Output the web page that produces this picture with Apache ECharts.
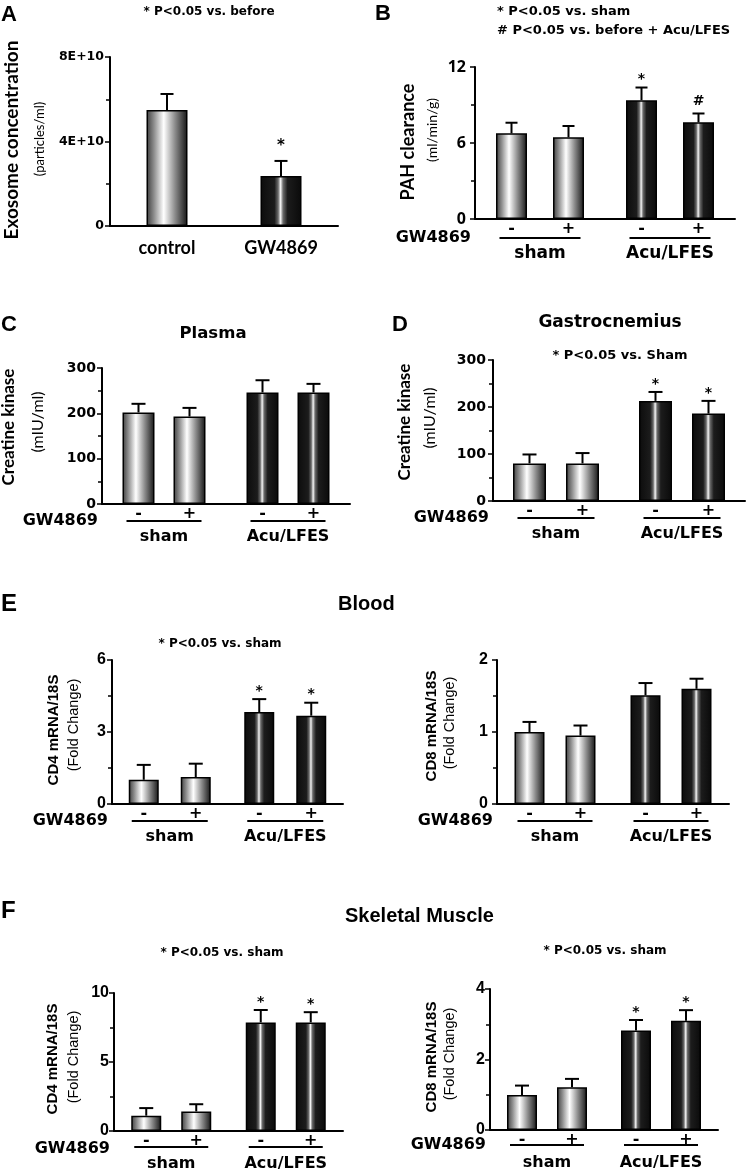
<!DOCTYPE html>
<html><head><meta charset="utf-8">
<script src="https://cdn.jsdelivr.net/npm/echarts@6/dist/echarts.min.js"></script>
<style>html,body{margin:0;padding:0;background:#fff}#c{width:750px;height:1173px}</style>
</head><body><div id="c"></div>
<script>
// ================= DATA =================
const groups = ['sham', 'Acu/LFES'];
const gwSigns = ['-', '+'];

// A: exosome concentration
const exoCategories = ['control', 'GW4869'];
const exoMean = [5.49e10, 2.37e10];
const exoSE = [0.76e10, 0.71e10];
const exoSig = ['', '*'];
const exoTickValues = [0, 4e10, 8e10];
const exoTickLabels = ['0', '4E+10', '8E+10'];

// B: PAH clearance (ml/min/g)
const pahMinus = [6.76, 9.38];
const pahPlus = [6.45, 7.63];
const pahMinusSE = [0.84, 1.00];
const pahPlusSE = [0.89, 0.70];
const pahMinusSig = ['', '*'];
const pahPlusSig = ['', '#'];

// C: creatine kinase, plasma (mIU/ml)
const ckPlasmaMinus = [202, 246];
const ckPlasmaPlus = [193, 246];
const ckPlasmaMinusSE = [19, 27];
const ckPlasmaPlusSE = [19, 19];

// D: creatine kinase, gastrocnemius (mIU/ml)
const ckGastroMinus = [80, 213];
const ckGastroPlus = [80, 186];
const ckGastroMinusSE = [19, 19];
const ckGastroPlusSE = [22, 27];
const ckGastroMinusSig = ['', '*'];
const ckGastroPlusSig = ['', '*'];

// E: blood CD4 / CD8 mRNA/18S (fold change)
const cd4BloodMinus = [1.01, 3.83];
const cd4BloodPlus = [1.12, 3.68];
const cd4BloodMinusSE = [0.62, 0.54];
const cd4BloodPlusSE = [0.56, 0.54];
const cd4BloodMinusSig = ['', '*'];
const cd4BloodPlusSig = ['', '*'];
const cd8BloodMinus = [1.00, 1.51];
const cd8BloodPlus = [0.95, 1.60];
const cd8BloodMinusSE = [0.14, 0.17];
const cd8BloodPlusSE = [0.14, 0.14];

// F: skeletal muscle CD4 / CD8 mRNA/18S (fold change)
const cd4MuscleMinus = [1.11, 7.87];
const cd4MusclePlus = [1.42, 7.87];
const cd4MuscleMinusSE = [0.55, 0.90];
const cd4MusclePlusSE = [0.52, 0.74];
const cd4MuscleMinusSig = ['', '*'];
const cd4MusclePlusSig = ['', '*'];
const cd8MuscleMinus = [0.99, 2.82];
const cd8MusclePlus = [1.21, 3.10];
const cd8MuscleMinusSE = [0.27, 0.30];
const cd8MusclePlusSE = [0.24, 0.30];
const cd8MuscleMinusSig = ['', '*'];
const cd8MusclePlusSig = ['', '*'];

// ================= STYLE =================
const LIGHT = {type:'linear', x:0, y:0, x2:1, y2:0, colorStops:[
  {offset:0, color:'#3c3c3c'}, {offset:0.18, color:'#8c8c8c'}, {offset:0.42, color:'#ffffff'},
  {offset:0.7, color:'#8a8a8a'}, {offset:1, color:'#141414'}]};
const DARK = {type:'linear', x:0, y:0, x2:1, y2:0, colorStops:[
  {offset:0, color:'#0c0c0c'}, {offset:0.34, color:'#1c1c1c'}, {offset:0.43, color:'#6a6a6a'},
  {offset:0.49, color:'#f6f6f6'}, {offset:0.55, color:'#6a6a6a'}, {offset:0.66, color:'#1c1c1c'},
  {offset:1, color:'#0a0a0a'}]};

const option = {animation:false, backgroundColor:'#fff', grid:[], xAxis:[], yAxis:[], series:[], graphic:[]};

function addPanel(L, D) {
  const gi = option.grid.length;
  const nS = D.series.length;
  option.grid.push({left:L.left, top:L.top, width:L.width, height:L.height});
  option.xAxis.push({gridIndex:gi, type:'category', data:D.cats,
    axisLine:{show:true, lineStyle:{color:'#000', width:2}}, axisTick:{show:false},
    axisLabel:{color:'#000', fontFamily:L.catFont, fontWeight:'bold', fontSize:L.catSize,
      lineHeight:L.catSize + 2, margin:L.catMargin, interval:0}});
  option.yAxis.push({gridIndex:gi, type:'value', min:0, max:D.yMax, interval:D.yInterval,
    axisLine:{show:true, lineStyle:{color:'#000', width:2}},
    axisTick:{show:true, length:5, lineStyle:{color:'#000', width:1.5}},
    minorTick:{show:true, splitNumber:2, length:4, lineStyle:{color:'#000', width:1.5}},
    splitLine:{show:false},
    axisLabel:{color:'#000', fontFamily:L.tickFont, fontWeight:'bold', fontSize:L.tickSize,
      margin:L.tickMargin, formatter:D.tickFmt}});
  const gap = nS > 1 ? ((L.pair - L.barWidth) / L.barWidth * 100) + '%' : '30%';
  D.series.forEach((s) => {
    option.series.push({type:'bar', xAxisIndex:gi, yAxisIndex:gi, barWidth:L.barWidth, barGap:gap,
      silent:true,
      data:s.values.map((v, ci) => ({value:v, itemStyle:{color:D.shade[ci] === 'dark' ? DARK : LIGHT,
        borderColor:'#000', borderWidth:1.5}}))});
  });
  const errData = [];
  D.series.forEach((s, si) => s.values.forEach((v, ci) => errData.push([ci, v, s.se[ci], si])));
  option.series.push({type:'custom', xAxisIndex:gi, yAxisIndex:gi, clip:false, z:5, silent:true,
    data:errData,
    renderItem:(params, api) => {
      const ci = api.value(0), v = api.value(1), se = api.value(2), si = api.value(3);
      const s = D.series[si];
      const off = nS > 1 ? (si === 0 ? -1 : 1) * L.pair / 2 : 0;
      const pTop = api.coord([ci, v]);
      const pErr = api.coord([ci, v + se]);
      const p0 = api.coord([ci, 0]);
      const x = pTop[0] + off;
      const ch = [
        {type:'line', shape:{x1:x, y1:pTop[1], x2:x, y2:pErr[1]}, style:{stroke:'#000', lineWidth:2}},
        {type:'line', shape:{x1:x - L.cap / 2, y1:pErr[1], x2:x + L.cap / 2, y2:pErr[1]}, style:{stroke:'#000', lineWidth:2}}
      ];
      const sig = s.sig ? s.sig[ci] : '';
      if (sig) {
        ch.push({type:'text', x:x, y:pErr[1] - (sig === '#' ? L.starGap + 4 : L.starGap),
          style:{text:sig, fill:'#000', font:L.starFont, align:'center', verticalAlign:'middle',
            textAlign:'center', textVerticalAlign:'middle'}});
      }
      if (s.sign) {
        ch.push({type:'text', x:x, y:p0[1] + L.signDy,
          style:{text:s.sign, fill:'#000', font:'bold 16px "DejaVu Sans"', align:'center', verticalAlign:'middle',
            textAlign:'center', textVerticalAlign:'middle'}});
      }
      if (nS > 1 && si === 0) {
        ch.push({type:'line', shape:{x1:p0[0] - L.pair / 2 - 12, y1:p0[1] + L.lineDy,
          x2:p0[0] + L.pair / 2 + 12, y2:p0[1] + L.lineDy}, style:{stroke:'#000', lineWidth:2}});
      }
      return {type:'group', children:ch};
    }});
  if (nS > 1) {
    option.graphic.push({type:'text', x:L.left - L.gwInset, y:L.top + L.height + L.lineDy,
      style:{text:'GW4869', fill:'#000', font:'bold 16px "DejaVu Sans"', align:'right', verticalAlign:'middle',
        textAlign:'right', textVerticalAlign:'middle'}});
  }
  D.ytitle.forEach(t => {
    option.graphic.push({type:'text', x:t.x, y:t.y, rotation:Math.PI / 2,
      style:{text:t.text, fill:'#000', font:t.font, align:'center', verticalAlign:'middle',
        textAlign:'center', textVerticalAlign:'middle'}});
  });
}

function two(minus, plus, minusSE, plusSE, minusSig, plusSig) {
  return [
    {values:minus, se:minusSE, sig:minusSig, sign:gwSigns[0]},
    {values:plus, se:plusSE, sig:plusSig, sign:gwSigns[1]}
  ];
}
const SH = ['light', 'dark'];
const base2 = {signDy:10, lineDy:17, gwInset:4, catFont:'DejaVu Sans', catSize:16, catMargin:24,
  starFont:'bold 14px "DejaVu Sans"', starGap:8, cap:14};

// ---- A ----
addPanel({left:110, top:57, width:228, height:169, barWidth:41, cap:13, starGap:15,
  starFont:'bold 15px "DejaVu Sans"', tickFont:'DejaVu Sans', tickSize:12.5, tickMargin:6,
  catFont:'Lato', catSize:18, catMargin:12, signDy:10, lineDy:17},
  {cats:exoCategories, shade:SH, yMax:8e10, yInterval:4e10,
   tickFmt:(v) => { const i = exoTickValues.indexOf(v); return i >= 0 ? exoTickLabels[i] : ''; },
   series:[{values:exoMean, se:exoSE, sig:exoSig}],
   ytitle:[{text:'Exosome concentration', x:12, y:140, font:'bold 19px Lato'},
           {text:'(particles/ml)', x:40, y:139, font:'13px Lato'}]});

// ---- B ----
addPanel(Object.assign({}, base2, {left:475, top:67, width:260, height:152, barWidth:31, pair:57, cap:12,
  tickFont:'Open Sans', tickSize:16, tickMargin:9, catSize:17, catMargin:25, lineDy:19}),
  {cats:groups, shade:SH, yMax:12, yInterval:6,
   series:two(pahMinus, pahPlus, pahMinusSE, pahPlusSE, pahMinusSig, pahPlusSig),
   ytitle:[{text:'PAH clearance', x:408, y:142, font:'bold 18px Lato'},
           {text:'(ml/min/g)', x:432, y:130, font:'14px Lato'}]});

// ---- C ----
addPanel(Object.assign({}, base2, {left:102, top:368, width:248, height:136, barWidth:32, pair:51,
  tickFont:'DejaVu Sans', tickSize:14, tickMargin:6, catSize:16}),
  {cats:groups, shade:SH, yMax:300, yInterval:100,
   series:two(ckPlasmaMinus, ckPlasmaPlus, ckPlasmaMinusSE, ckPlasmaPlusSE, null, null),
   ytitle:[{text:'Creatine kinase', x:9, y:427, font:'bold 17px Lato'},
           {text:'(mIU/ml)', x:38, y:422, font:'16px Lato'}]});

// ---- D ----
addPanel(Object.assign({}, base2, {left:493, top:360, width:252, height:141, barWidth:33, pair:53,
  tickFont:'DejaVu Sans', tickSize:14, tickMargin:7, catSize:16}),
  {cats:groups, shade:SH, yMax:300, yInterval:100,
   series:two(ckGastroMinus, ckGastroPlus, ckGastroMinusSE, ckGastroPlusSE, ckGastroMinusSig, ckGastroPlusSig),
   ytitle:[{text:'Creatine kinase', x:405, y:422, font:'bold 17px Lato'},
           {text:'(mIU/ml)', x:430, y:418, font:'16px Lato'}]});

// ---- E left ----
addPanel(Object.assign({}, base2, {left:112, top:660, width:231, height:144, barWidth:30, pair:52,
  tickFont:'Liberation Sans', tickSize:16, tickMargin:6}),
  {cats:groups, shade:SH, yMax:6, yInterval:3,
   series:two(cd4BloodMinus, cd4BloodPlus, cd4BloodMinusSE, cd4BloodPlusSE, cd4BloodMinusSig, cd4BloodPlusSig),
   ytitle:[{text:'CD4 mRNA/18S', x:54, y:730, font:'bold 15px "Liberation Sans"'},
           {text:'(Fold Change)', x:74, y:725, font:'14.5px "Liberation Sans"'}]});

// ---- E right ----
addPanel(Object.assign({}, base2, {left:497, top:660, width:232, height:144, barWidth:30, pair:51,
  tickFont:'Liberation Sans', tickSize:16, tickMargin:9}),
  {cats:groups, shade:SH, yMax:2, yInterval:1,
   series:two(cd8BloodMinus, cd8BloodPlus, cd8BloodMinusSE, cd8BloodPlusSE, null, null),
   ytitle:[{text:'CD8 mRNA/18S', x:432, y:726, font:'bold 15px "Liberation Sans"'},
           {text:'(Fold Change)', x:450, y:723, font:'14.5px "Liberation Sans"'}]});

// ---- F left ----
addPanel(Object.assign({}, base2, {left:114, top:993, width:229, height:140, barWidth:30, pair:50,
  tickFont:'Liberation Sans', tickSize:16, tickMargin:5, lineDy:16}),
  {cats:groups, shade:SH, yMax:10, yInterval:5,
   series:two(cd4MuscleMinus, cd4MusclePlus, cd4MuscleMinusSE, cd4MusclePlusSE, cd4MuscleMinusSig, cd4MusclePlusSig),
   ytitle:[{text:'CD4 mRNA/18S', x:53, y:1059, font:'bold 15px "Liberation Sans"'},
           {text:'(Fold Change)', x:74, y:1057, font:'14.5px "Liberation Sans"'}]});

// ---- F right ----
addPanel(Object.assign({}, base2, {left:490, top:989, width:228, height:141, barWidth:30, pair:50,
  tickFont:'Liberation Sans', tickSize:16, tickMargin:5, lineDy:15}),
  {cats:groups, shade:SH, yMax:4, yInterval:2,
   series:two(cd8MuscleMinus, cd8MusclePlus, cd8MuscleMinusSE, cd8MusclePlusSE, cd8MuscleMinusSig, cd8MusclePlusSig),
   ytitle:[{text:'CD8 mRNA/18S', x:432, y:1057, font:'bold 15px "Liberation Sans"'},
           {text:'(Fold Change)', x:450, y:1054, font:'14.5px "Liberation Sans"'}]});

// ---- panel letters, headings, notes ----
function txt(text, x, y, font, align) {
  option.graphic.push({type:'text', x:x, y:y,
    style:{text:text, fill:'#000', font:font, align:align || 'left', verticalAlign:'middle',
      textAlign:align || 'left', textVerticalAlign:'middle'}});
}
const LET = 'bold 22px "Liberation Sans"';
txt('A', 1, 15, LET); txt('B', 375, 14, LET); txt('C', 1, 325, LET); txt('D', 392, 325, LET);
txt('E', 1, 604, 'bold 24px "Liberation Sans"'); txt('F', 1, 911, 'bold 24px "Liberation Sans"');
txt('* P<0.05 vs. before', 209, 12, 'bold 12px "DejaVu Sans"', 'center');
txt('* P<0.05 vs. sham', 497, 12, 'bold 13px "DejaVu Sans"');
txt('# P<0.05 vs. before + Acu/LFES', 497, 31, 'bold 13px "DejaVu Sans"');
txt('Plasma', 213, 334, 'bold 16.5px "DejaVu Sans"', 'center');
txt('Gastrocnemius', 610, 323, 'bold 17px "DejaVu Sans"', 'center');
txt('* P<0.05 vs. Sham', 620, 356, 'bold 13px "DejaVu Sans"', 'center');
txt('Blood', 338, 604, 'bold 20px "Liberation Sans"');
txt('* P<0.05 vs. sham', 220, 644, 'bold 12px "DejaVu Sans"', 'center');
txt('Skeletal Muscle', 345, 916, 'bold 20px "Liberation Sans"');
txt('* P<0.05 vs. sham', 222, 953, 'bold 12px "DejaVu Sans"', 'center');
txt('* P<0.05 vs. sham', 605, 951, 'bold 12px "DejaVu Sans"', 'center');

const chart = echarts.init(document.getElementById('c'), null, {renderer:'canvas'});
chart.setOption(option);
</script>
</body></html>
